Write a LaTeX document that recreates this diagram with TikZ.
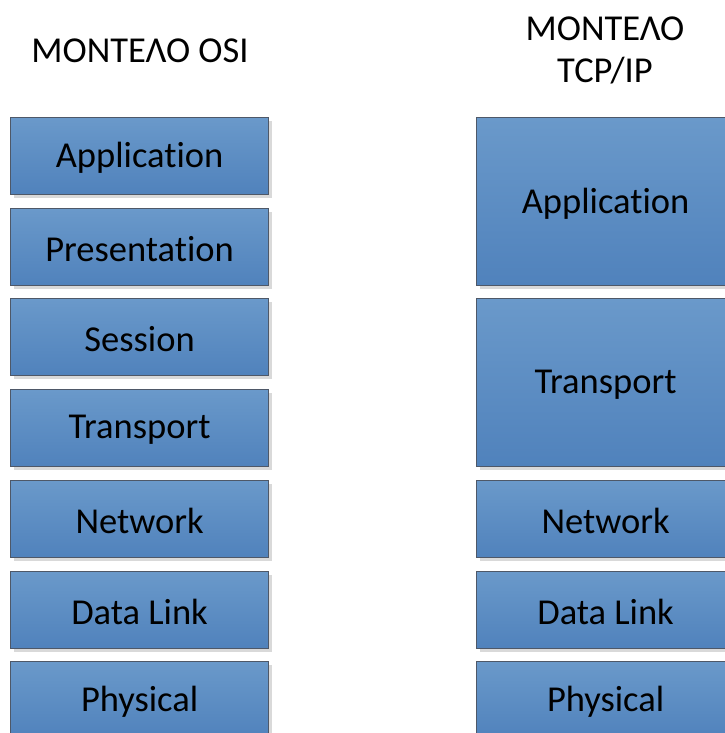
\documentclass[tikz,border=0pt]{standalone}
\usepackage{fontspec}
\setmainfont[Ligatures=NoCommon,RawFeature=-liga]{Carlito}
\usetikzlibrary{shadows}
\definecolor{layertop}{RGB}{106,153,202}
\definecolor{layerbot}{RGB}{80,130,188}
\definecolor{layeredge}{RGB}{78,88,104}
\tikzset{
  layer/.style={rectangle, draw=layeredge, line width=1.2pt,
    top color=layertop, bottom color=layerbot,
    drop shadow={shadow xshift=3pt, shadow yshift=-3pt, fill=black!15, opacity=1},
    minimum width=258pt, inner sep=0pt, anchor=north west,
    font=\fontsize{36.5}{42}\selectfont, text=black},
  lbl/.style={font=\fontsize{36.5}{42}\selectfont, align=center, text=black},
  title/.style={lbl}
}
\begin{document}
\begin{tikzpicture}[x=1pt,y=-1pt]
\useasboundingbox (0,0) rectangle (724,733);
% OSI column
\node[title] (osi) at (140,51) {ΜΟΝΤΕΛΟ OSI};
\node[layer, minimum height=77pt] (oapp) at (10,117) {};
\node[layer, minimum height=77pt] (opre) at (10,208) {};
\node[layer, minimum height=77pt] (oses) at (10,298) {};
\node[layer, minimum height=77pt] (otra) at (10,389) {};
\node[layer, minimum height=77pt] (onet) at (10,480) {};
\node[layer, minimum height=77pt] (odl) at (10,571) {};
\node[layer, minimum height=77pt] (ophy) at (10,661) {};
% TCP/IP column
\node[title] (tcp) at (605,50) {ΜΟΝΤΕΛΟ\\TCP/IP};
\node[layer, minimum height=168pt] (tapp) at (476,117) {};
\node[layer, minimum height=168pt] (ttra) at (476,298) {};
\node[layer, minimum height=77pt] (tnet) at (476,480) {};
\node[layer, minimum height=77pt] (tdl) at (476,571) {};
\node[layer, minimum height=77pt] (tphy) at (476,661) {};
% layer names, set slightly below each box centre
\foreach \n/\t in {oapp/Application, opre/Presentation, oses/Session,
    otra/Transport, onet/Network, odl/Data Link, ophy/Physical,
    tapp/Application, ttra/Transport, tnet/Network, tdl/Data Link, tphy/Physical}
  \node[lbl] (\n-t) at ([yshift=-2pt]\n.center) {\t};
\end{tikzpicture}
\end{document}
